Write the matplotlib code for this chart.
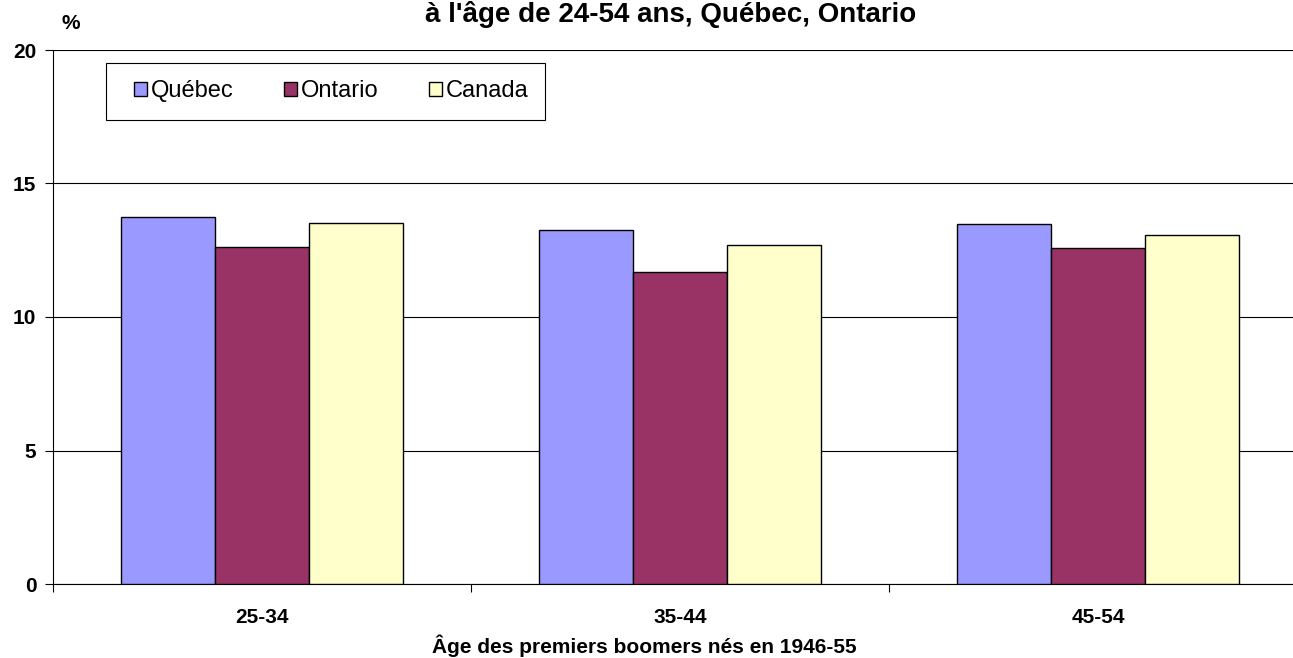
import numpy as np
import matplotlib
matplotlib.use('Agg')
import matplotlib.pyplot as plt
from matplotlib.patches import Rectangle

plt.rcParams['font.family'] = ['Liberation Sans', 'DejaVu Sans']

groupes = ['25-34', '35-44', '45-54']
series = ['Québec', 'Ontario', 'Canada']
quebec = [13.75, 13.26, 13.48]
ontario = [12.62, 11.69, 12.58]
canada = [13.52, 12.70, 13.07]
couleurs = ['#9999FF', '#993366', '#FFFFCC']

W, H = 1293., 658.
fig = plt.figure(figsize=(12.93, 6.58), dpi=100)
# axes run a little past the right edge, as in the original export
ax = fig.add_axes([53/W, 1-584/H, (1307-53)/W, (584-50)/H])

x = np.arange(len(groupes))
w = 0.225
for i, (nom, vals) in enumerate(zip(series, [quebec, ontario, canada])):
    ax.bar(x + (i-1)*w, vals, w, color=couleurs[i], edgecolor='black',
           linewidth=1.0, label=nom, zorder=3)

ax.set_xlim(-0.5, 2.5)
ax.set_ylim(0, 20)
ax.set_yticks([0, 5, 10, 15, 20])
ax.yaxis.grid(True, color='black', linewidth=0.8, zorder=0)
ax.set_xticks(x)
ax.set_xticklabels(groupes, fontsize=15, fontweight='bold')
ax.set_xticks([-0.5, 0.5, 1.5], minor=True)
ax.tick_params(axis='x', which='major', length=0, pad=17)
ax.tick_params(axis='x', which='minor', length=6, direction='out', width=0.8)
ax.tick_params(axis='y', length=6, width=0.8, direction='out', pad=6)
for t in ax.get_yticklabels():
    t.set_fontsize(15)
    t.set_fontweight('bold')
for s in ['top', 'right']:
    ax.spines[s].set_visible(False)
ax.spines['left'].set_linewidth(0.8)
ax.spines['bottom'].set_linewidth(0.8)

fig.text(644/W, 1-653/H, 'Âge des premiers boomers nés en 1946-55',
         fontsize=15, fontweight='bold', ha='center', va='baseline')

fig.text(71/W, 1-29/H, '%', fontsize=15, fontweight='bold',
         ha='center', va='baseline')
fig.text(671/W, 1-22/H, "à l'âge de 24-54 ans, Québec, Ontario",
         fontsize=20, fontweight='bold', ha='center', va='baseline')

# legend box drawn separately so the padding matches the original
fig.patches.append(Rectangle((106/W, 1-120/H), (545-106)/W, (120-63)/H,
                             transform=fig.transFigure, facecolor='white',
                             edgecolor='black', linewidth=0.8, zorder=5))
leg = fig.legend(*ax.get_legend_handles_labels(), loc='center left',
                 bbox_to_anchor=(134/W, 1-91/H), ncol=3, fontsize=17,
                 frameon=False, handlelength=0.55, handleheight=0.55,
                 handletextpad=0.15, columnspacing=2.16, borderpad=0,
                 borderaxespad=0)
leg.set_zorder(6)

plt.savefig('out.png', dpi=100)
